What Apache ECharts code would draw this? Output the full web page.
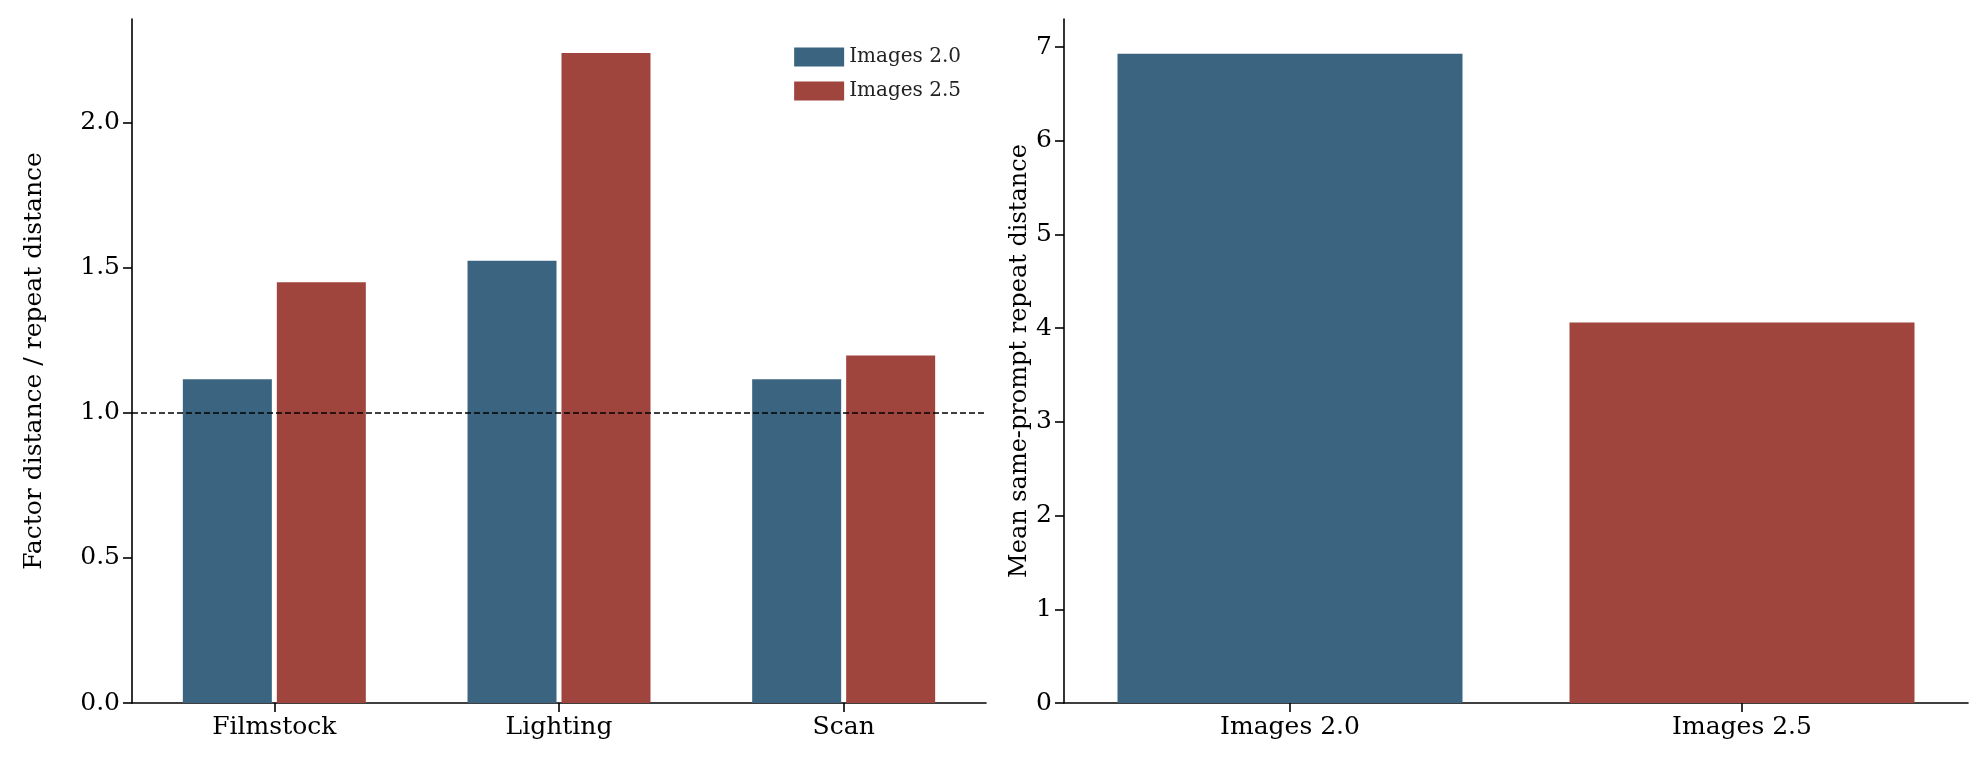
<!DOCTYPE html>
<html><head><meta charset="utf-8">
<script src="https://cdn.jsdelivr.net/npm/echarts@6/dist/echarts.min.js"></script>
<style>html,body{margin:0;padding:0;background:#fff}#c{width:1974px;height:774px}</style>
</head><body><div id="c"></div>
<script>
const factors = ['Filmstock', 'Lighting', 'Scan'];
const ratio20 = [1.115, 1.523, 1.115];
const ratio25 = [1.449, 2.239, 1.197];
const models = ['Images 2.0', 'Images 2.5'];
const meanDist = [6.93, 4.06];
const leftTicks = [0, 0.5, 1.0, 1.5, 2.0];
const BLUE = '#3b6481', RED = '#a0453d';
const F = 'DejaVu Serif';
const chart = echarts.init(document.getElementById('c'));
const axisCommon = {
  axisLine: {show: true, lineStyle: {color: '#000', width: 1.6}},
  axisTick: {show: true, inside: false, alignWithLabel: true, length: 9, lineStyle: {color: '#000', width: 1.6}},
  axisLabel: {color: '#000', fontFamily: F, fontSize: 25, margin: 12},
  splitLine: {show: false}
};
chart.setOption({
  animation: false,
  textStyle: {fontFamily: F},
  legend: {
    data: ['Images 2.0', 'Images 2.5'], right: 1008, top: 42, orient: 'vertical',
    itemWidth: 50, itemHeight: 19, itemGap: 14, icon: 'rect',
    textStyle: {fontFamily: F, fontSize: 20, color: '#222'}
  },
  grid: [
    {left: 132, top: 19, width: 854, height: 684},
    {left: 1064, top: 19, width: 904, height: 684}
  ],
  xAxis: [
    Object.assign({}, axisCommon, {type: 'category', gridIndex: 0, data: factors}),
    Object.assign({}, axisCommon, {type: 'category', gridIndex: 1, data: models})
  ],
  yAxis: [
    Object.assign({}, axisCommon, {type: 'value', gridIndex: 0, min: 0, max: 2.356, interval: 0.5,
      axisLabel: Object.assign({}, axisCommon.axisLabel, {formatter: v => leftTicks.includes(v) ? v.toFixed(1) : '', showMaxLabel: false}),
      name: 'Factor distance / repeat distance', nameLocation: 'middle', nameGap: 85,
      nameTextStyle: {fontFamily: F, fontSize: 25, color: '#000'}}),
    Object.assign({}, axisCommon, {type: 'value', gridIndex: 1, min: 0, max: 7.3, interval: 1,
      axisLabel: Object.assign({}, axisCommon.axisLabel, {showMaxLabel: false, formatter: v => v <= 7 ? String(v) : ''}),
      name: 'Mean same-prompt repeat distance', nameLocation: 'middle', nameGap: 22,
      nameTextStyle: {fontFamily: F, fontSize: 24, color: '#000'}})
  ],
  series: [
    {name: 'Images 2.0', type: 'bar', xAxisIndex: 0, yAxisIndex: 0, data: ratio20, barWidth: 89, barGap: '5.6%', itemStyle: {color: BLUE},
      markLine: {silent: true, symbol: 'none', label: {show: false}, lineStyle: {color: '#000', type: [6, 3], width: 1.6}, data: [{yAxis: 1}]}},
    {name: 'Images 2.5', type: 'bar', xAxisIndex: 0, yAxisIndex: 0, data: ratio25, barWidth: 89, barGap: '5.6%', itemStyle: {color: RED}},
    {name: 'mean', type: 'bar', xAxisIndex: 1, yAxisIndex: 1, barWidth: 345,
      data: [{value: meanDist[0], itemStyle: {color: BLUE}}, {value: meanDist[1], itemStyle: {color: RED}}]}
  ]
});
</script></body></html>
